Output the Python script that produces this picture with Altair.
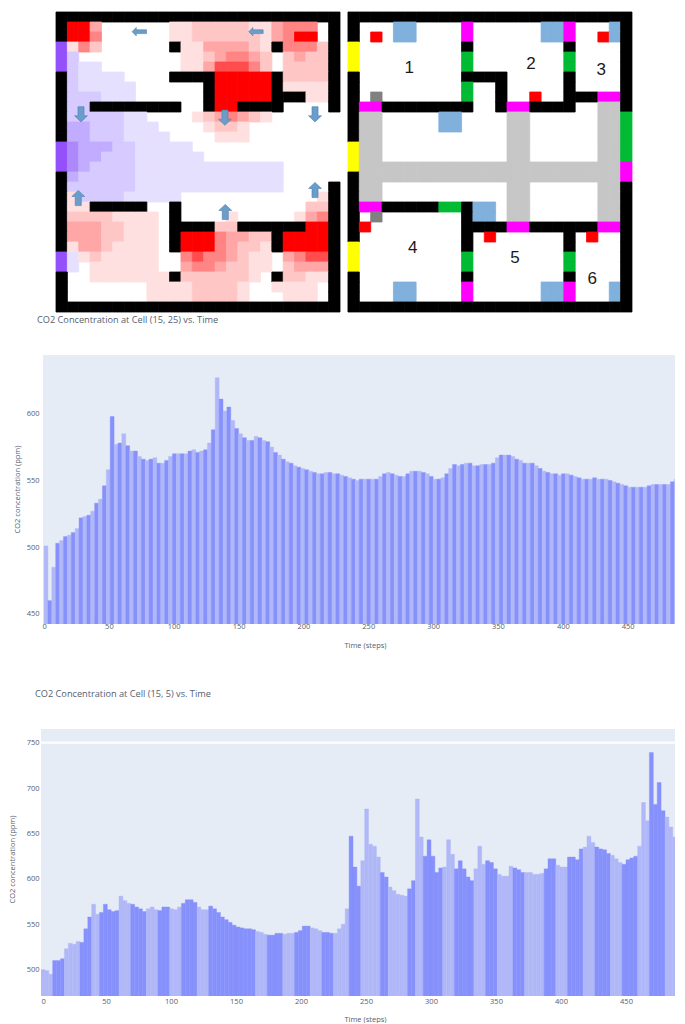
import altair as alt
import pandas as pd

# ---------- floor-plan panels: 25 columns x 30 rows ----------
CO2_ROWS = [
    "#########################",
    "#663......1122222113444.#",
    "#664......1122222213466.#",
    "P142......#11333321#4442#",
    "Pb.........11234432.2322#",
    "Pbaa.......11355542.2222#",
    "#baaaa....####66666#2222#",
    "#baaaaa......#66666#1111#",
    "#bbbaaa......#66666###11#",
    "#bb########..#66####....#",
    "#bbbbbaa....1234321......",
    "#ccbbbaaa....1221........",
    "#ccbbbaaaa....111........",
    "Pdcccbbaaaaa.............",
    "Pdccbbbaaaaaa............",
    "Pdcbbbbaaaaaaaaaaaaa.....",
    "#cbbbbbaaaaaaaaaaaaa.....",
    "#bbbbbbaaaaaaaaaaaaa....#",
    "#1bbbbaaaaa............1#",
    "#11#####..#...........22#",
    "#22221111.#....1.....134#",
    "#33322111.####22######66#",
    "#33322111.#66643322#6666#",
    "#13321111.#66643221#6666#",
    "Pa1211111..45443211.3455#",
    "Pa.111111..34432211.2333#",
    "#..1111111#2222221.#2211#",
    "#.......111122221..1111.#",
    "#.......111122221...111.#",
    "#########################",
]
LAYOUT_ROWS = [
    "#########################",
    "#...BB....M......BBM...B#",
    "#.R.BB....M......BBM..RB#",
    "Y.........#........#....#",
    "Y.........G........G....#",
    "Y.........G........G....#",
    "#.........####.....#....#",
    "#.........G..#.....#....#",
    "#.D.......G..#..R..###MM#",
    "#MM########..#MM####..LL#",
    "#LL.....BB....LL......LLG",
    "#LL.....BB....LL......LLG",
    "#LL...........LL......LLG",
    "YLL...........LL......LLG",
    "YLL...........LL......LLG",
    "YLLLLLLLLLLLLLLLLLLLLLLLM",
    "#LLLLLLLLLLLLLLLLLLLLLLLM",
    "#LL...........LL......LL#",
    "#LL...........LL......LL#",
    "#MM#####GG#BB.LL......LL#",
    "#.D.......#BB.LL......LL#",
    "#R........####MM######MM#",
    "#.........#.R......#.R..#",
    "Y.........#........#....#",
    "Y.........G........G....#",
    "Y.........G........G....#",
    "#.........#........#....#",
    "#...BB....M......BBM...B#",
    "#...BB....M......BBM...B#",
    "#########################",
]
CO2_COLORS = {
    "#": "#000000", "P": "#9350fb",
    "a": "#e6e0ff", "b": "#d6caff", "c": "#c2acff", "d": "#ac88fb",
    "1": "#ffe0e0", "2": "#ffc6c6", "3": "#ffa6a6",
    "4": "#ff8484", "5": "#ff4c4c", "6": "#ff0000",
}
LAYOUT_COLORS = {
    "#": "#000000", "Y": "#ffff00", "M": "#ff00ff", "G": "#00bb33",
    "D": "#808080", "R": "#ff0000", "B": "#80b0dc", "L": "#c6c6c6",
}
ROOM_LABELS = ["1", "2", "3", "4", "5", "6"]
ROOM_COLS = [5.4, 16.1, 22.3, 5.7, 14.7, 21.5]
ROOM_ROWS = [5.57, 5.23, 5.83, 23.6, 24.6, 26.7]

ARROW_COLS = [7.33, 17.6, 2.2, 14.87, 22.8, 1.96, 14.9, 22.8]
ARROW_ROWS = [1.97, 1.97, 10.23, 10.57, 10.23, 18.6, 20.0, 17.8]
ARROW_DIRS = ["left", "left", "down", "down", "down", "up", "up", "up"]
ARROW_PATHS = {
    "left": "M-0.95,0 L-0.4,-0.55 L-0.4,-0.25 L0.95,-0.25 L0.95,0.25 L-0.4,0.25 L-0.4,0.55 Z",
    "down": "M0,1 L-0.85,0.2 L-0.4,0.2 L-0.4,-1 L0.4,-1 L0.4,0.2 L0.85,0.2 Z",
    "up": "M0,-1 L-0.85,-0.2 L-0.4,-0.2 L-0.4,1 L0.4,1 L0.4,-0.2 L0.85,-0.2 Z",
}

# ---------- time series, one value per 3-step band ----------
CELL_15_25 = [
    501, 460, 485, 503, 505, 508, 509, 511, 514, 522, 523, 524, 527, 533, 536, 546, 558, 598, 577, 578,
    585, 576, 572, 572, 568, 566, 565, 566, 567, 563, 563, 565, 568, 570, 570, 570, 570, 572, 573, 571,
    572, 573, 578, 588, 627, 611, 602, 605, 595, 589, 585, 582, 580, 580, 583,
    582, 580, 579, 575, 571, 569, 566, 564, 563, 561, 560, 559, 558, 557, 556, 555, 555, 556, 556, 555,
    555, 554, 553, 552, 551, 550, 551, 551, 551, 551, 551, 553, 555, 556, 555, 554, 553, 553, 555, 557,
    557, 557, 556, 555, 553, 551, 551, 552, 555, 559, 562, 561, 562, 563, 563,
    561, 561, 562, 562, 562, 563, 567, 569, 569, 569, 568, 566, 565, 563, 563, 563, 561, 559, 557, 556,
    555, 555, 554, 555, 555, 554, 553, 552, 551, 551, 551, 552, 551, 551, 551, 550, 549, 548, 547, 546,
    545, 545, 545, 545, 545, 546, 547, 547, 547, 547, 547, 549, 551, 551, 552,
]
CELL_15_5 = [
    500, 499, 495, 510, 510, 512, 523, 529, 528, 531, 530, 545, 558, 572, 561, 563, 572, 566, 564, 565,
    581, 576, 573, 572, 569, 567, 564, 567, 569, 566, 565, 569, 569, 567, 566, 569, 573, 577, 577, 574,
    569, 566, 566, 570, 567, 563, 558, 555, 552, 549, 547, 546, 545, 545, 544,
    542, 541, 539, 538, 538, 540, 540, 539, 540, 540, 541, 543, 548, 548, 546, 545, 543, 541, 541, 540,
    540, 545, 550, 567, 647, 613, 592, 620, 677, 638, 636, 624, 607, 602, 591, 587, 583, 582, 581, 589,
    598, 688, 646, 625, 643, 625, 607, 612, 613, 643, 627, 611, 620, 611, 602,
    598, 611, 636, 616, 620, 618, 611, 605, 603, 603, 614, 612, 610, 607, 607, 607, 605, 605, 606, 611,
    622, 622, 615, 613, 613, 624, 624, 621, 633, 635, 647, 640, 635, 633, 632, 628, 626, 622, 618, 616,
    621, 623, 625, 636, 684, 664, 739, 682, 706, 675, 668, 657, 646, 640, 636, 635,
]
# run lengths of alternating light / dark bands for the second series, starting light
CELL_15_5_RUNS = [
    3, 3, 4, 3, 2, 5, 3, 4, 3, 3, 3, 4, 3, 12,
    3, 4, 3, 4, 3, 3, 4, 3, 5, 2, 5, 2, 2, 5, 3, 4,
    0, 1,
    3, 3, 4, 3, 5, 3, 3, 4, 3, 4, 3, 4, 3, 4, 3, 3,
]
BAND = 3
DARK, LIGHT = "#8791fc", "#b1b8f8"
PLOT_BG = "#e5ecf6"
TEXT = "#55606e"
FONT = "Open Sans"

# page layout of the stacked panels
LEFT_INSET = 15
GRID_W = 577
COL_GAP = 25.7
GRID_COLS = 50.79
VIEW_W = 634


def grid_frame(rows, colors, shift):
    recs = []
    for r, row in enumerate(rows):
        for c, code in enumerate(row):
            if code in colors:
                recs.append({"c0": c + shift, "c1": c + 1 + shift, "r0": r, "r1": r + 1, "fill": colors[code]})
    return pd.DataFrame(recs)


grid_x = alt.Scale(domain=[0, GRID_COLS], range=[LEFT_INSET, LEFT_INSET + GRID_W], nice=False, zero=False)
grid_y = alt.Scale(domain=[30, 0], range=[300, 0], nice=False, zero=False)
grid_df = pd.concat([grid_frame(CO2_ROWS, CO2_COLORS, 0), grid_frame(LAYOUT_ROWS, LAYOUT_COLORS, COL_GAP)])

cells = (
    alt.Chart(grid_df)
    .mark_rect(strokeWidth=0.8)
    .encode(
        x=alt.X("c0:Q", axis=None, scale=grid_x), x2="c1:Q",
        y=alt.Y("r0:Q", axis=None, scale=grid_y), y2="r1:Q",
        fill=alt.Fill("fill:N", scale=None), stroke=alt.Stroke("fill:N", scale=None),
    )
)
arrows = (
    alt.Chart(pd.DataFrame({"c": ARROW_COLS, "r": ARROW_ROWS, "dir": ARROW_DIRS}))
    .mark_point(filled=True, size=230, opacity=1, fill="#6b9dcb", stroke="#4f80b0", strokeWidth=0.6)
    .encode(
        x=alt.X("c:Q", scale=grid_x, axis=None),
        y=alt.Y("r:Q", scale=grid_y, axis=None),
        shape=alt.Shape("dir:N", legend=None, scale=alt.Scale(
            domain=list(ARROW_PATHS.keys()), range=list(ARROW_PATHS.values()))),
    )
)
labels = (
    alt.Chart(pd.DataFrame({"c": [c + COL_GAP for c in ROOM_COLS], "r": ROOM_ROWS, "t": ROOM_LABELS}))
    .mark_text(font="Liberation Sans", fontSize=17, color="#1a1a1a")
    .encode(x=alt.X("c:Q", scale=grid_x, axis=None), y=alt.Y("r:Q", scale=grid_y, axis=None), text="t:N")
)
top = alt.layer(cells, arrows, labels).properties(width=LEFT_INSET + GRID_W, height=300)


def series_panel(values, shades, title, title_dx, title_dy, x_domain, x_range, y_domain, y_ticks,
                 blank, height, title_x, title_y, label_pad, title_pad, guide=None):
    df = pd.DataFrame({"t": [i * BAND for i in range(len(values))], "v": values, "fill": shades})
    df["t2"] = df["t"] + BAND
    df["base"] = y_domain[0]
    xs = alt.Scale(domain=x_domain, range=x_range, nice=False, zero=False)
    ys = alt.Scale(domain=y_domain, range=[blank + height, blank], nice=False, zero=False)
    x_axis = alt.Axis(
        title="Time (steps)", values=list(range(0, 500, 50)), domain=False, ticks=False,
        grid=False, labelFontSize=7.5, labelColor=TEXT, labelPadding=label_pad, titleFontSize=7.5,
        titleColor=TEXT, titleFontWeight="normal", titleFont=FONT, labelFont=FONT, titlePadding=title_pad,
        titleX=324)
    y_axis = alt.Axis(
        title="CO2 concentration (ppm)", values=y_ticks, domain=False, ticks=False,
        gridColor="#ffffff", gridOpacity=0.35, labelFontSize=7.5, labelColor=TEXT, labelPadding=2,
        titleFontSize=7.5, titleColor=TEXT, titleFontWeight="normal", titleFont=FONT, labelFont=FONT,
        titleX=title_x, titleY=title_y)
    back = (
        alt.Chart(pd.DataFrame({"a": [x_domain[0]], "b": [x_domain[1]], "lo": [y_domain[0]], "hi": [y_domain[1]]}))
        .mark_rect(color=PLOT_BG)
        .encode(
            x=alt.X("a:Q", scale=xs, axis=x_axis), x2="b:Q",
            y=alt.Y("hi:Q", scale=ys, axis=y_axis), y2="lo:Q",
        )
    )
    bars = alt.Chart(df).mark_rect(clip=True, strokeWidth=0.4).encode(
        x=alt.X("t:Q", scale=xs, axis=x_axis), x2="t2:Q",
        y=alt.Y("v:Q", scale=ys, axis=y_axis), y2="base:Q",
        fill=alt.Fill("fill:N", scale=None), stroke=alt.Stroke("fill:N", scale=None),
    )
    layers = [back, bars]
    if guide is not None:
        layers.append(
            alt.Chart(pd.DataFrame({"g": [guide]})).mark_rule(color="#ffffff", strokeWidth=2.2, opacity=0.9)
            .encode(y=alt.Y("g:Q", scale=ys, axis=y_axis))
        )
    return alt.layer(*layers).properties(
        width=VIEW_W, height=blank + height,
        title=alt.TitleParams(title, anchor="start", frame="group", dx=title_dx, dy=title_dy, offset=0,
                              fontSize=9.2, fontWeight="normal", font=FONT, color=TEXT),
    )


shades_a = [DARK if i % 2 else LIGHT for i in range(len(CELL_15_25))]
shades_b = []
for k, run in enumerate(CELL_15_5_RUNS):
    shades_b += [LIGHT if k % 2 == 0 else DARK] * run
shades_b = (shades_b + [DARK] * len(CELL_15_5))[: len(CELL_15_5)]

chart2 = series_panel(CELL_15_25, shades_a, "CO2 Concentration at Cell (15, 25) vs. Time", -4, 13.5,
                      [-0.8, 486.5], [2, VIEW_W], [442.5, 644], [450, 500, 550, 600],
                      43, 269, -19.6, 177, -2, 12)
chart3 = series_panel(CELL_15_5, shades_b, "CO2 Concentration at Cell (15, 5) vs. Time", -6, 75,
                      [0, 487.7], [0, VIEW_W], [471, 765], [500, 550, 600, 650, 700, 750],
                      105, 267, -24.6, 235, 1, 11, guide=750)

chart = (
    alt.vconcat(top, chart2, chart3, spacing=0, bounds="flush")
    .properties(padding={"left": 0, "top": 3, "right": 0, "bottom": 0})
    .configure_view(stroke=None)
)
chart.save("out.html", embed_options={"renderer": "svg", "actions": False})
